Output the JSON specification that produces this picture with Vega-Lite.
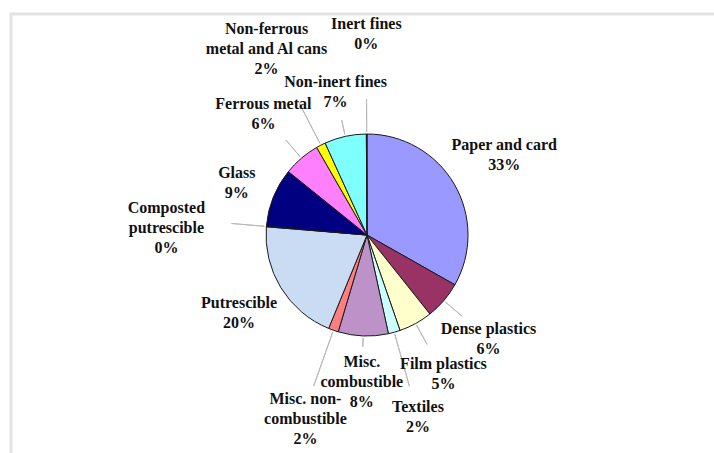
{
  "$schema": "https://vega.github.io/schema/vega-lite/v6.json",
  "width": 712,
  "height": 442,
  "autosize": "none",
  "padding": {"left": 11, "top": 14, "right": -9, "bottom": -3},
  "background": "#ffffff",
  "config": {"view": {"stroke": null}},
  "data": {
    "values": [
      {"idx": 1, "category": "Paper and card", "value": 33.2, "label": "Paper and card\n33%"},
      {"idx": 2, "category": "Dense plastics", "value": 6.1, "label": "Dense plastics\n6%"},
      {"idx": 3, "category": "Film plastics", "value": 5.4, "label": "Film plastics\n5%"},
      {"idx": 4, "category": "Textiles", "value": 1.9, "label": "Textiles\n2%"},
      {"idx": 5, "category": "Misc. combustible", "value": 8.0, "label": "Misc.\ncombustible\n8%"},
      {"idx": 6, "category": "Misc. non-combustible", "value": 1.6, "label": "Misc. non-\ncombustible\n2%"},
      {"idx": 7, "category": "Putrescible", "value": 20.1, "label": "Putrescible\n20%"},
      {"idx": 8, "category": "Composted putrescible", "value": 0.1, "label": "Composted\nputrescible\n0%"},
      {"idx": 9, "category": "Glass", "value": 9.4, "label": "Glass\n9%"},
      {"idx": 10, "category": "Ferrous metal", "value": 5.9, "label": "Ferrous metal\n6%"},
      {"idx": 11, "category": "Non-ferrous metal and Al cans", "value": 1.5, "label": "Non-ferrous\nmetal and Al cans\n2%"},
      {"idx": 12, "category": "Non-inert fines", "value": 6.7, "label": "Non-inert fines\n7%"},
      {"idx": 13, "category": "Inert fines", "value": 0.1, "label": "Inert fines\n0%"}
    ]
  },
  "layer": [
    {
      "data": {"values": [{}]},
      "mark": {"type": "rect", "fill": null, "stroke": "#e3e3e3", "strokeWidth": 3},
      "encoding": {}
    },
    {
      "mark": {"type": "arc", "radius": 101, "stroke": "#1a1a1a", "strokeWidth": 1},
      "encoding": {
        "theta": {"field": "value", "type": "quantitative", "stack": true},
        "order": {"field": "idx", "type": "quantitative"},
        "color": {
          "field": "category",
          "type": "nominal",
          "sort": null,
          "legend": null,
          "scale": {
            "domain": ["Paper and card", "Dense plastics", "Film plastics", "Textiles", "Misc. combustible", "Misc. non-combustible", "Putrescible", "Composted putrescible", "Glass", "Ferrous metal", "Non-ferrous metal and Al cans", "Non-inert fines", "Inert fines"],
            "range": ["#9999FF", "#993366", "#FFFFCC", "#CCFFFF", "#BC92C9", "#FF7F7F", "#C9DCF3", "#339966", "#000080", "#FF80FF", "#FFFF00", "#80FFFF", "#808080"]
          }
        }
      }
    },
    {
      "mark": {"type": "arc", "padAngle": 3, "radius2": 103, "fillOpacity": 0, "stroke": "#b8b8b8", "strokeWidth": 1},
      "encoding": {
        "theta": {"field": "value", "type": "quantitative", "stack": true},
        "order": {"field": "idx", "type": "quantitative"},
        "radius": {
          "field": "value",
          "type": "quantitative",
          "scale": {"type": "linear", "domain": [0, 1.5, 1.6, 2, 5, 6.2, 6.6, 8, 9, 20, 35], "range": [135, 150, 160, 156, 125, 125, 118, 112, 103, 103, 103], "clamp": true, "zero": false, "nice": false}
        }
      }
    },
    {
      "mark": {"type": "text", "font": "Liberation Serif", "fontWeight": "bold", "fontSize": 16, "lineHeight": 20, "lineBreak": "\n", "align": "center", "baseline": "middle", "dy": -10, "color": "#111111"},
      "encoding": {
        "theta": {"field": "value", "type": "quantitative", "stack": true},
        "order": {"field": "idx", "type": "quantitative"},
        "radius": {
          "field": "value",
          "type": "quantitative",
          "scale": {"type": "linear", "domain": [0, 1.5, 1.6, 2, 5, 6.2, 6.6, 8, 9, 20, 35], "range": [200, 220, 185, 190, 158, 160, 147, 137, 140, 150, 160], "clamp": true, "zero": false, "nice": false}
        },
        "text": {"field": "label"}
      }
    }
  ],
  "resolve": {"scale": {"radius": "independent"}}
}
